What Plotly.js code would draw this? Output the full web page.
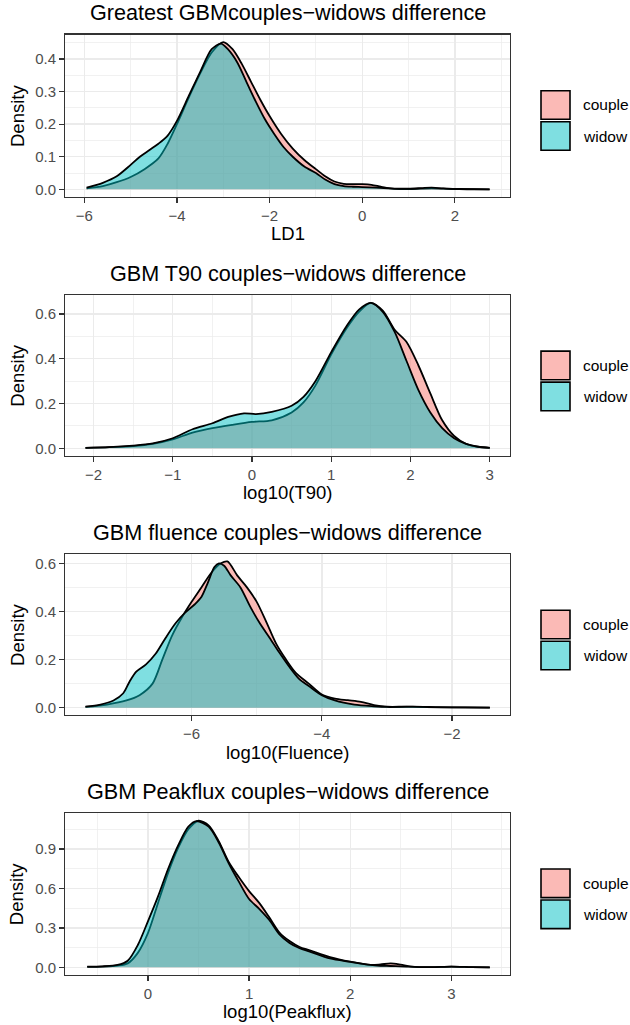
<!DOCTYPE html>
<html>
<head>
<meta charset="utf-8">
<script src="https://cdn.plot.ly/plotly-3.0.1.min.js"></script>
<style>html,body{margin:0;padding:0;background:#fff;}#chart{width:630px;height:1025px;}</style>
</head>
<body>
<div id="chart"></div>
<script>
// ---------- DATA ----------
const panelTitles = ["Greatest GBMcouples\u2212widows difference", "GBM T90 couples\u2212widows difference", "GBM fluence couples\u2212widows difference", "GBM Peakflux couples\u2212widows difference"];
const xTitles = ["LD1", "log10(T90)", "log10(Fluence)", "log10(Peakflux)"];
const groups = ["couple", "widow"];

// Panel 1: LD1
const ld1CoupleX = [-5.95,-5.6,-5.3,-5.0,-4.7,-4.4,-4.2,-4.0,-3.75,-3.5,-3.25,-3.0,-2.8,-2.6,-2.4,-2.2,-2.0,-1.75,-1.5,-1.25,-1.0,-0.8,-0.6,-0.4,-0.2,0.0,0.2,0.4,0.6,0.8,1.0,1.25,1.5,1.75,2.0,2.4,2.75];
const ld1CoupleY = [0.003,0.010,0.022,0.038,0.062,0.095,0.14,0.20,0.28,0.355,0.42,0.452,0.43,0.385,0.33,0.275,0.225,0.17,0.125,0.09,0.062,0.04,0.024,0.017,0.016,0.016,0.014,0.008,0.003,0.001,0.001,0.002,0.003,0.002,0.001,0.0005,0.0];
const ld1WidowX = [-5.95,-5.6,-5.3,-5.0,-4.8,-4.6,-4.4,-4.2,-4.0,-3.75,-3.5,-3.25,-3.05,-2.9,-2.7,-2.5,-2.3,-2.1,-1.9,-1.7,-1.5,-1.25,-1.0,-0.8,-0.6,-0.4,-0.2,0.0,0.3,0.6,1.0,1.3,1.5,1.75,2.1,2.75];
const ld1WidowY = [0.005,0.02,0.04,0.075,0.10,0.12,0.14,0.165,0.21,0.285,0.36,0.43,0.447,0.43,0.39,0.33,0.27,0.215,0.17,0.13,0.10,0.07,0.05,0.03,0.016,0.01,0.008,0.007,0.005,0.003,0.002,0.004,0.005,0.003,0.001,0.0];

// Panel 2: log10(T90)
const t90CoupleX = [-2.1,-1.8,-1.5,-1.25,-1.0,-0.75,-0.5,-0.25,0.0,0.25,0.5,0.65,0.8,1.0,1.2,1.35,1.5,1.65,1.8,1.95,2.1,2.25,2.4,2.55,2.7,2.85,3.0];
const t90CoupleY = [0.002,0.005,0.01,0.02,0.04,0.07,0.09,0.105,0.118,0.125,0.16,0.205,0.28,0.42,0.54,0.61,0.65,0.615,0.53,0.475,0.37,0.245,0.125,0.055,0.02,0.007,0.002];
const t90WidowX = [-2.1,-1.8,-1.5,-1.25,-1.0,-0.75,-0.5,-0.3,-0.1,0.05,0.25,0.5,0.65,0.8,1.0,1.2,1.35,1.5,1.65,1.8,1.95,2.1,2.25,2.4,2.55,2.7,2.85,3.0];
const t90WidowY = [0.002,0.005,0.012,0.022,0.045,0.085,0.112,0.14,0.156,0.153,0.163,0.19,0.23,0.30,0.43,0.55,0.62,0.65,0.61,0.52,0.39,0.26,0.16,0.09,0.045,0.02,0.007,0.002];

// Panel 3: log10(Fluence)
const fluCoupleX = [-7.63,-7.3,-7.0,-6.8,-6.6,-6.45,-6.3,-6.15,-6.0,-5.85,-5.7,-5.55,-5.45,-5.3,-5.15,-5.0,-4.85,-4.7,-4.55,-4.4,-4.2,-4.0,-3.8,-3.6,-3.4,-3.2,-3.0,-2.7,-2.4,-2.0,-1.42];
const fluCoupleY = [0.003,0.013,0.03,0.052,0.10,0.20,0.30,0.375,0.44,0.50,0.56,0.6,0.608,0.55,0.5,0.44,0.355,0.265,0.2,0.145,0.1,0.055,0.038,0.031,0.024,0.011,0.004,0.004,0.002,0.001,0.0];
const fluWidowX = [-7.63,-7.4,-7.2,-7.05,-6.95,-6.85,-6.7,-6.55,-6.4,-6.25,-6.1,-5.95,-5.85,-5.75,-5.65,-5.58,-5.5,-5.4,-5.25,-5.1,-4.95,-4.8,-4.65,-4.5,-4.35,-4.2,-4.0,-3.8,-3.5,-3.2,-3.0,-2.6,-2.2,-1.8,-1.42];
const fluWidowY = [0.004,0.013,0.03,0.06,0.11,0.15,0.18,0.225,0.29,0.35,0.395,0.43,0.46,0.52,0.585,0.6,0.59,0.55,0.5,0.42,0.35,0.29,0.228,0.17,0.12,0.09,0.052,0.03,0.013,0.006,0.003,0.004,0.002,0.001,0.0];

// Panel 4: log10(Peakflux)
const pkCoupleX = [-0.6,-0.45,-0.3,-0.2,-0.1,0.0,0.1,0.2,0.3,0.4,0.5,0.6,0.7,0.8,0.9,1.0,1.1,1.2,1.3,1.4,1.5,1.6,1.8,2.0,2.2,2.3,2.4,2.5,2.6,2.8,3.0,3.2,3.38];
const pkCoupleY = [0.003,0.006,0.013,0.03,0.11,0.26,0.49,0.72,0.91,1.05,1.115,1.08,0.96,0.8,0.685,0.58,0.49,0.38,0.265,0.2,0.155,0.13,0.078,0.043,0.018,0.022,0.03,0.02,0.006,0.002,0.006,0.002,0.0];
const pkWidowX = [-0.6,-0.45,-0.3,-0.2,-0.1,0.0,0.1,0.2,0.3,0.4,0.48,0.6,0.7,0.8,0.9,1.0,1.1,1.2,1.3,1.4,1.5,1.6,1.8,2.0,2.2,2.3,2.4,2.5,2.6,2.8,3.0,3.2,3.38];
const pkWidowY = [0.005,0.008,0.018,0.05,0.17,0.35,0.54,0.75,0.93,1.07,1.112,1.07,0.95,0.79,0.65,0.52,0.445,0.36,0.25,0.185,0.145,0.12,0.068,0.042,0.018,0.012,0.01,0.007,0.005,0.002,0.006,0.002,0.0];

const seriesX = [[ld1CoupleX, ld1WidowX],[t90CoupleX, t90WidowX],[fluCoupleX, fluWidowX],[pkCoupleX, pkWidowX]];
const seriesY = [[ld1CoupleY, ld1WidowY],[t90CoupleY, t90WidowY],[fluCoupleY, fluWidowY],[pkCoupleY, pkWidowY]];

// ---------- STYLE / LAYOUT ----------
const W = 630, H = 1025;
const FONT = "Liberation Sans, Arial, Helvetica, sans-serif";
const fills = ["rgba(248,118,109,0.5)", "rgba(0,191,196,0.5)"];
const legendFills = ["#FBBAB6", "#7FDFE1"];
const plotLeft = 65.3, plotRight = 510;
const panelTop = [34.7, 295.1, 554.2, 813];
const panelBottom = [196.7, 455.6, 715, 974.7];
const xRanges = [[-6.41, 3.19], [-2.355, 3.255], [-7.94, -1.11], [-0.817, 3.58]];
const yRanges = [[-0.0226, 0.4746], [-0.0326, 0.6846], [-0.0304, 0.638], [-0.056, 1.174]];
const xDtick = [2, 1, 2, 1];
const yDtick = [0.1, 0.2, 0.2, 0.3];
const px = v => v / W;
const py = v => 1 - v / H;

const traces = [];
const layout = {
  width: W, height: H,
  margin: {l: 0, r: 0, t: 0, b: 0},
  paper_bgcolor: "#ffffff", plot_bgcolor: "#ffffff",
  showlegend: false,
  font: {family: FONT, color: "#000"},
  annotations: [], shapes: []
};

for (let p = 0; p < 4; p++) {
  const sfx = p === 0 ? "" : String(p + 1);
  for (let g = 0; g < 2; g++) {
    traces.push({
      type: "scatter", mode: "lines",
      x: seriesX[p][g], y: seriesY[p][g],
      xaxis: "x" + sfx, yaxis: "y" + sfx,
      name: groups[g],
      line: {color: "#000000", width: 1.8, shape: "spline", smoothing: 0.8},
      fill: "tozeroy", fillcolor: fills[g],
      hoverinfo: "skip"
    });
  }
  const common = {
    showgrid: true, gridcolor: "#EBEBEB", gridwidth: 1.4,
    zeroline: false, showline: true, mirror: true, linecolor: "#333333", linewidth: 1.3,
    ticks: "outside", ticklen: 5, tickwidth: 1.2, tickcolor: "#333333",
    tickfont: {family: FONT, size: 15, color: "#4D4D4D"}
  };
  layout["xaxis" + sfx] = Object.assign({}, common, {
    domain: [px(plotLeft), px(plotRight)], range: xRanges[p], anchor: "y" + sfx,
    dtick: xDtick[p], tick0: 0,
    minor: {dtick: xDtick[p] / 2, tick0: 0, showgrid: true, gridcolor: "#EBEBEB", gridwidth: 0.7, ticks: ""}
  });
  layout["yaxis" + sfx] = Object.assign({}, common, {
    domain: [py(panelBottom[p]), py(panelTop[p])], range: yRanges[p], anchor: "x" + sfx,
    dtick: yDtick[p], tick0: 0, tickformat: ".1f",
    minor: {dtick: yDtick[p] / 2, tick0: 0, showgrid: true, gridcolor: "#EBEBEB", gridwidth: 0.7, ticks: ""}
  });
  const cx = (plotLeft + plotRight) / 2;
  layout.annotations.push({
    xref: "paper", yref: "paper", x: px(cx), y: py(panelTop[p] - 22),
    text: panelTitles[p], showarrow: false, xanchor: "center", yanchor: "middle",
    font: {family: FONT, size: 21.6, color: "#000"}
  });
  layout.annotations.push({
    xref: "paper", yref: "paper", x: px(cx), y: py(panelBottom[p] + 37),
    text: xTitles[p], showarrow: false, xanchor: "center", yanchor: "middle",
    font: {family: FONT, size: 18.5, color: "#000"}
  });
  layout.annotations.push({
    xref: "paper", yref: "paper", x: px(17.3), y: py((panelTop[p] + panelBottom[p]) / 2),
    text: "Density", showarrow: false, textangle: -90, xanchor: "center", yanchor: "middle",
    font: {family: FONT, size: 18.5, color: "#000"}
  });
  // legend keys
  for (let g = 0; g < 2; g++) {
    const y0 = panelTop[p] + 56 + g * 31;
    layout.shapes.push({
      type: "rect", xref: "paper", yref: "paper",
      x0: px(541), x1: px(570), y0: py(y0), y1: py(y0 + 28.6),
      fillcolor: legendFills[g], line: {color: "#000", width: 1.6}
    });
    layout.annotations.push({
      xref: "paper", yref: "paper", x: px(581), y: py(y0 + 14.3),
      text: groups[g], showarrow: false, xanchor: "left", yanchor: "middle",
      font: {family: FONT, size: 15.5, color: "#000"}
    });
  }
}

Plotly.newPlot("chart", traces, layout, {staticPlot: true, displayModeBar: false});
</script>
</body>
</html>
